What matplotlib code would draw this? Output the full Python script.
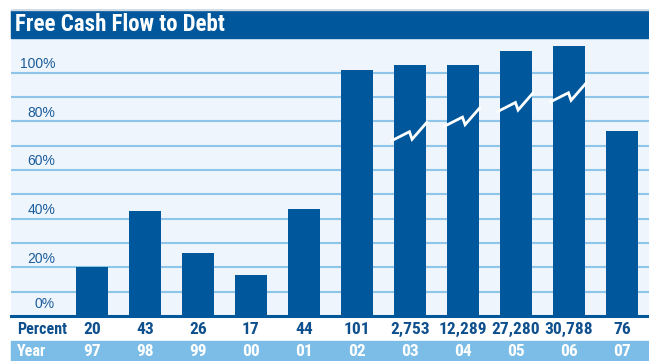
import matplotlib
matplotlib.use("Agg")
import matplotlib.pyplot as plt
from matplotlib.patches import Rectangle
from matplotlib.transforms import blended_transform_factory

# ---- data ----
years = ["97", "98", "99", "00", "01", "02", "03", "04", "05", "06", "07"]
percent = [20, 43, 26, 17, 44, 101, 2753, 12289, 27280, 30788, 76]
# bars that run off the scale are cut short and marked with a break
broken_top = [103, 103, 109, 111]
broken_at = [72, 78, 84, 88]
yticks = [0, 20, 40, 60, 80, 100]
title = "Free Cash Flow to Debt"

DARK = "#00579B"
BG = "#EEF5FC"
GRID = "#8EC6E9"
BAND = "#7BBDE7"
TXT = "#1B5C9C"
ROWTXT = "#0E4F8E"

W, H = 649, 361
fig = plt.figure(figsize=(W / 100, H / 100), dpi=100)
fig.patch.set_facecolor("white")

def fx(px):
    return px / W

def fy(py):
    return 1 - py / H

narrow = ["Roboto Condensed", "Liberation Sans Narrow", "Asap Condensed",
          "Barlow Semi Condensed", "DejaVu Sans"]
regular = ["Liberation Sans", "DejaVu Sans"]

# plot area
ax = fig.add_axes([fx(11), fy(316), fx(649) - fx(11), fy(38) - fy(316)])
ax.set_facecolor(BG)
ax.set_xlim(-1.528, 10.51)
ax.set_ylim(0, 114.2)
for s in ax.spines.values():
    s.set_visible(False)
ax.set_xticks([])
ax.set_yticks([])

for g in range(10, 101, 10):
    ax.axhline(g, color=GRID, lw=1.5, zorder=1)

cap = 200
heights = []
bi = 0
for v in percent:
    if v > cap:
        heights.append(broken_top[bi])
        bi += 1
    else:
        heights.append(v)

x = list(range(len(years)))
ax.bar(x, heights, width=0.6, color=DARK, zorder=2)

# break marks on the cut bars
zig_dx = [-0.345, -0.01, 0.04, 0.32]
zig_dy = [0, 3.7, 0.6, 7.6]
bi = 0
for i, v in enumerate(percent):
    if v > cap:
        y0 = broken_at[bi]
        ax.plot([i + d for d in zig_dx], [y0 + d for d in zig_dy],
                color="white", lw=2, zorder=3, solid_joinstyle="miter")
        bi += 1

# y labels sitting just above their gridlines
for t in yticks:
    ax.text(0.069, t + (1.9 if t == 0 else 0.7), f"{t}%",
            transform=ax.get_yaxis_transform(), ha="right", va="bottom",
            fontsize=10, color=TXT, family=regular, zorder=4)

# title band
fig.patches.append(Rectangle((fx(11), fy(38)), 1 - fx(11), fy(10) - fy(38),
                             transform=fig.transFigure, color=DARK, zorder=0))
fig.lines.append(plt.Line2D([fx(11), 1], [fy(9.5), fy(9.5)],
                            transform=fig.transFigure, color="#D3DAE2", lw=1))
fig.text(fx(15), fy(24.5), title, ha="left", va="center", color="white",
         fontsize=16.5, fontweight="bold", family=narrow)

# baseline
fig.lines.append(plt.Line2D([fx(11), 1], [fy(316), fy(316)],
                            transform=fig.transFigure, color=DARK, lw=2.2))

# year band
fig.patches.append(Rectangle((fx(11), 0), 1 - fx(11), fy(341),
                             transform=fig.transFigure, color=BAND, zorder=0))

tr = blended_transform_factory(ax.transData, fig.transFigure)
fig.text(fx(17), fy(329.5), "Percent", ha="left", va="center", color=ROWTXT,
         fontsize=11.5, fontweight="bold", family=narrow)
fig.text(fx(17), fy(351.5), "Year", ha="left", va="center", color="white",
         fontsize=11.5, fontweight="bold", family=narrow)
for i, (yr, v) in enumerate(zip(years, percent)):
    fig.text(i, fy(329.5), f"{v:,}", transform=tr, ha="center", va="center",
             color=ROWTXT, fontsize=12.5, fontweight="bold", family=narrow)
    fig.text(i, fy(351.5), yr, transform=tr, ha="center", va="center",
             color="white", fontsize=12.5, fontweight="bold", family=narrow)

fig.savefig("out.png", dpi=100)
